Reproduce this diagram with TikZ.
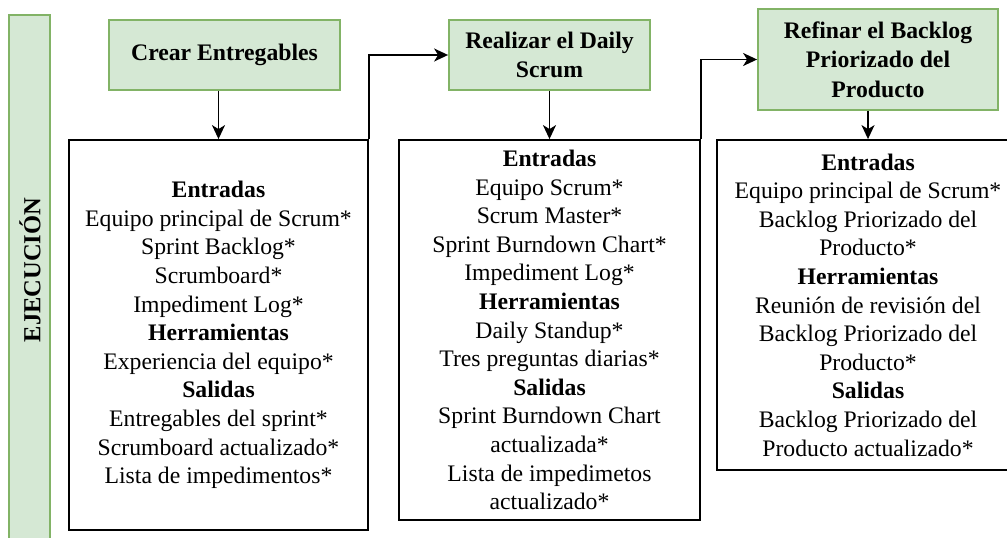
\documentclass[tikz,border=0pt]{standalone}
\usepackage{fontspec}
\setmainfont{Liberation Serif}
\usetikzlibrary{arrows.meta}
\definecolor{gfill}{HTML}{D5E8D4}
\definecolor{gdraw}{HTML}{82B366}
\begin{document}
\begin{tikzpicture}[x=1pt,y=-1pt,
  font=\fontsize{23.7}{28.6}\selectfont,
  titlebox/.style={draw=gdraw,fill=gfill,line width=1.8pt,align=center,inner sep=0pt,font=\fontsize{23.7}{29.5}\selectfont\bfseries},
  infobox/.style={draw=black,line width=1.8pt,align=center,inner sep=0pt},
  conn/.style={line width=1.8pt,-{Stealth[length=14pt,width=13pt,inset=4pt]}}]
\useasboundingbox (0,0) rectangle (1007,538);
\clip (0,0) rectangle (1007,538);
\fill[white] (0,0) rectangle (1007,538);
% side bar
\node[draw=gdraw,fill=gfill,line width=1.8pt,minimum width=41pt,minimum height=540pt,inner sep=0pt] (bar) at (29.5,285) {};
\node[rotate=90,font=\fontsize{24.5}{29}\selectfont\bfseries] (ej) at (30,270) {EJECUCIÓN};
% title boxes
\node[titlebox,minimum width=231pt,minimum height=70pt] (t1) at (224.5,55) {Crear Entregables};
\node[titlebox,minimum width=201pt,minimum height=70pt] (t2) at (549.5,55) {Realizar el Daily\\Scrum};
\node[titlebox,minimum width=240pt,minimum height=101pt] (t3) at (878,59.5) {Refinar el Backlog\\Priorizado del\\Producto};
% info boxes
\node[infobox,minimum width=299pt,minimum height=390pt] (b1) at (218.5,335) {%
\textbf{Entradas}\\Equipo principal de Scrum*\\Sprint Backlog*\\Scrumboard*\\Impediment Log*\\%
\textbf{Herramientas}\\Experiencia del equipo*\\%
\textbf{Salidas}\\Entregables del sprint*\\Scrumboard actualizado*\\Lista de impedimentos*};
\node[infobox,minimum width=301pt,minimum height=380pt] (b2) at (549.5,330) {%
\textbf{Entradas}\\Equipo Scrum*\\Scrum Master*\\Sprint Burndown Chart*\\Impediment Log*\\%
\textbf{Herramientas}\\Daily Standup*\\Tres preguntas diarias*\\%
\textbf{Salidas}\\Sprint Burndown Chart\\actualizada*\\Lista de impedimetos\\actualizado*};
\node[infobox,minimum width=302pt,minimum height=330pt] (b3) at (868,305) {%
\textbf{Entradas}\\Equipo principal de Scrum*\\Backlog Priorizado del\\Producto*\\%
\textbf{Herramientas}\\Reunión de revisión del\\Backlog Priorizado del\\Producto*\\%
\textbf{Salidas}\\Backlog Priorizado del\\Producto actualizado*};
% connectors
\draw[conn] (t1.south -| b1.north) -- (b1.north);
\draw[conn] (t2.south -| b2.north) -- (b2.north);
\draw[conn] (t3.south -| b3.north) -- (b3.north);
\draw[conn] (b1.north east) |- (t2.west);
\draw[conn] (b2.north east) |- (t3.west);
\end{tikzpicture}
\end{document}
